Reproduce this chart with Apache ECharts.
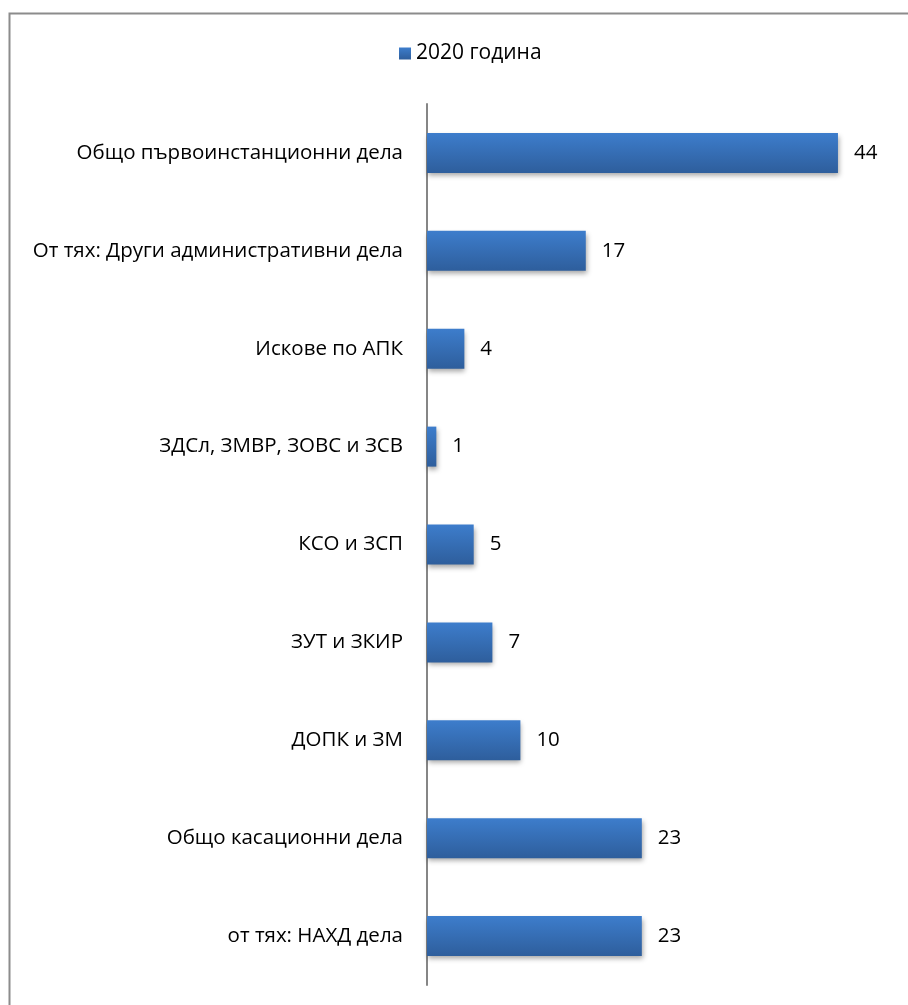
<!DOCTYPE html>
<html><head><meta charset="utf-8">
<script src="https://cdn.jsdelivr.net/npm/echarts@6/dist/echarts.min.js"></script>
<style>html,body{margin:0;padding:0;background:#fff}#c{width:908px;height:1005px}</style>
</head><body><div id="c"></div>
<script>
const categories = [
  'Общо първоинстанционни дела',
  'От тях: Други административни дела',
  'Искове по АПК',
  'ЗДСл, ЗМВР, ЗОВС и ЗСВ',
  'КСО и ЗСП',
  'ЗУТ и ЗКИР',
  'ДОПК и ЗМ',
  'Общо касационни дела',
  'от тях: НАХД дела'
];
const values2020 = [44, 17, 4, 1, 5, 7, 10, 23, 23];
const seriesName = '2020 година';

const font = 'Open Sans, Noto Sans, sans-serif';
const chart = echarts.init(document.getElementById('c'), null, {renderer: 'canvas'});
chart.setOption({
  animation: false,
  backgroundColor: '#fff',
  graphic: [{
    type: 'rect', shape: {x: 9.5, y: 13.5, width: 940, height: 1040},
    style: {fill: 'none', stroke: '#8c8c8c', lineWidth: 2}, silent: true
  }],
  legend: {
    top: 38, left: 394,
    itemWidth: 12, itemHeight: 12, itemGap: 6,
    icon: 'rect',
    textStyle: {fontFamily: font, fontSize: 21, color: '#000'},
    data: [seriesName]
  },
  grid: {left: 427, right: 14, top: 104, bottom: 20, containLabel: false},
  xAxis: {
    type: 'value', min: 0, max: 50, show: false
  },
  yAxis: {
    type: 'category', data: categories, inverse: true,
    axisLine: {show: true, lineStyle: {color: '#868686', width: 2}},
    axisTick: {show: false},
    axisLabel: {fontFamily: font, fontSize: 20.5, color: '#000', margin: 24}
  },
  series: [{
    name: seriesName, type: 'bar', data: values2020, barWidth: 40,
    itemStyle: {
      color: new echarts.graphic.LinearGradient(0, 0, 0, 1, [
        {offset: 0, color: '#3d7dcc'},
        {offset: 1, color: '#2e5e9c'}
      ]),
      shadowColor: 'rgba(0,0,0,0.35)', shadowBlur: 5, shadowOffsetX: 1, shadowOffsetY: 3
    },
    label: {
      show: true, position: 'right', distance: 16,
      fontFamily: font, fontSize: 20.5, color: '#000'
    }
  }]
});
</script></body></html>
